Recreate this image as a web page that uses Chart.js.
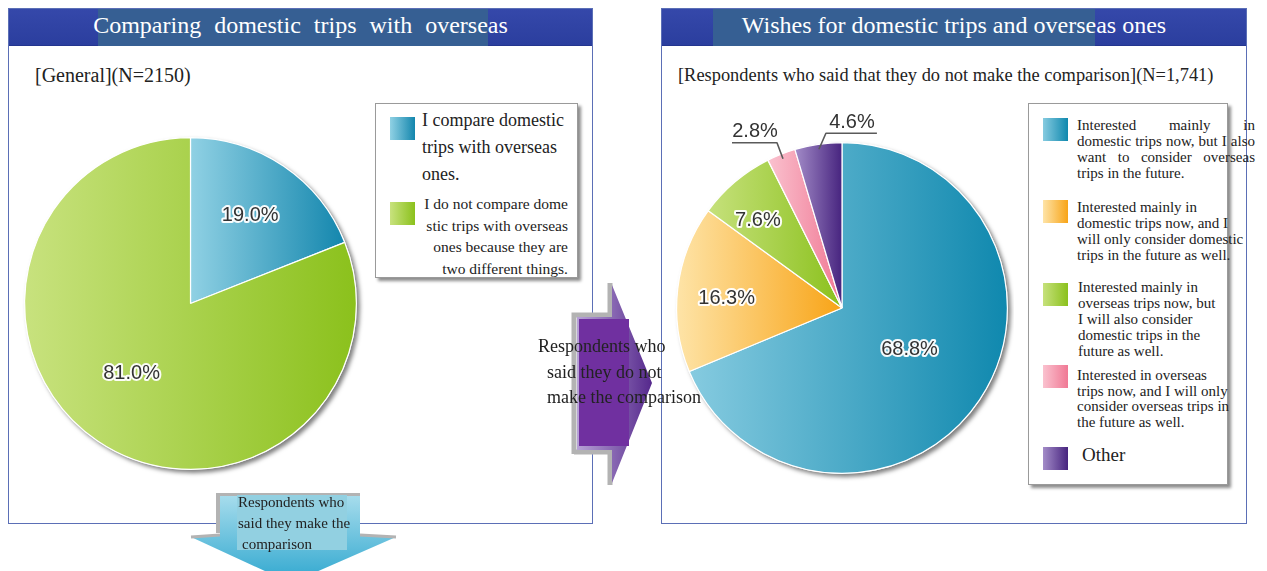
<!DOCTYPE html>
<html>
<head>
<meta charset="utf-8">
<script src="https://cdn.jsdelivr.net/npm/chart.js@4.4.1/dist/chart.umd.min.js"></script>
<style>
  html,body{margin:0;padding:0;background:#fff;}
  #stage{position:relative;width:1267px;height:571px;overflow:hidden;font-family:"Liberation Serif","DejaVu Serif",serif;color:#222;}
  .panel{position:absolute;box-sizing:border-box;border:1.5px solid #5b6fb6;background:#fff;}
  .hdr{position:absolute;left:0;top:0;right:0;height:36px;background:linear-gradient(#3548aa,#2b3e9e);border-bottom:1.5px solid #24358f;}
  .hbox{position:absolute;top:0;height:37px;background:#365f93;}
  .title{position:absolute;top:0;left:0;right:0;height:36px;line-height:32px;text-align:center;color:#fff;font-size:24px;white-space:nowrap;}
  .sub{position:absolute;white-space:nowrap;line-height:22px;}
  .legend{position:absolute;box-sizing:border-box;border:1px solid #9a9a9a;background:#fff;box-shadow:3px 3px 3px rgba(0,0,0,0.45);}
  .sw{position:absolute;width:25px;height:23px;}
  .lt{position:absolute;white-space:nowrap;}
  canvas{position:absolute;}
  svg{position:absolute;left:0;top:0;}
  .j{text-align:justify;text-align-last:justify;}
</style>
</head>
<body>
<div id="stage">
  <div class="panel" style="left:8px;top:8px;width:585px;height:516px;">
    <div class="hdr"></div>
    <div class="hbox" style="left:89px;width:390px;"></div>
    <div class="title" id="leftTitle" style="word-spacing:7px;"></div>
  </div>
  <div class="panel" style="left:661px;top:8px;width:586px;height:516px;">
    <div class="hdr"></div>
    <div class="hbox" style="left:51px;width:382px;"></div>
    <div class="title" id="rightTitle"></div>
  </div>
  <div class="sub" id="leftSub" style="left:35px;top:64px;font-size:20px;"></div>
  <div class="sub" id="rightSub" style="left:678px;top:64px;font-size:18.4px;"></div>

  <canvas id="leftPie" width="352" height="420" style="left:14px;top:100px;width:352px;height:420px;"></canvas>
  <canvas id="rightPie" width="344" height="420" style="left:670px;top:100px;width:344px;height:420px;"></canvas>

  <div class="legend" id="leftLegend" style="left:375px;top:103px;width:203px;height:175px;"></div>
  <div class="legend" id="rightLegend" style="left:1028px;top:103px;width:200px;height:382px;"></div>

  <svg width="1267" height="571" viewBox="0 0 1267 571">
    <defs>
      <linearGradient id="pg" x1="0" y1="0" x2="1" y2="0">
        <stop offset="0" stop-color="#b7a2d6"/>
        <stop offset="1" stop-color="#55288c"/>
      </linearGradient>
      <linearGradient id="bg" x1="0" y1="0" x2="0" y2="1">
        <stop offset="0" stop-color="#a6dcec"/>
        <stop offset="1" stop-color="#2fa7cf"/>
      </linearGradient>
    </defs>
    <polyline points="574,454 574,315 610,315 610,283" fill="none" stroke="#b3b3b3" stroke-width="5"/>
    <polyline points="574,452 610,452 610,485" fill="none" stroke="#b3b3b3" stroke-width="5"/>
    <polygon points="577,317 612,317 612,285 652,383 612,483 612,450 577,450" fill="url(#pg)"/>
    <rect x="579" y="319" width="50" height="127" fill="#7030a0"/>
    <polyline points="218,533 218,495 360,495" fill="none" stroke="#b3b3b3" stroke-width="4"/>
    <polygon points="220,496 360,496 360,535 396,537 291,583 191,537 220,535" fill="url(#bg)"/>
    <polyline points="191,537 220,535" fill="none" stroke="#b3b3b3" stroke-width="3"/>
    <polyline points="360,535 396,537" fill="none" stroke="#b3b3b3" stroke-width="3"/>
    <rect x="237" y="495" width="110" height="55" fill="#92d0e1"/>
  </svg>
  <div class="lt" id="midText" style="left:538px;top:334px;font-size:18px;line-height:25.5px;"></div>
  <div class="lt" id="botText" style="left:238px;top:492px;font-size:15px;line-height:21px;"></div>
</div>

<script>
// ---------------- DATA ----------------
const leftTitle = "Comparing domestic trips with overseas";
const rightTitle = "Wishes for domestic trips and overseas ones";
const leftSubtitle = "[General](N=2150)";
const rightSubtitle = "[Respondents who said that they do not make the comparison](N=1,741)";

const leftCategories = [
  "I compare domestic trips with overseas ones.",
  "I do not compare domestic trips with overseas ones because they are two different things."
];
const leftValues = [19.0, 81.0];

const rightCategories = [
  "Interested mainly in domestic trips now, but I also want to consider overseas trips in the future.",
  "Interested mainly in domestic trips now, and I will only consider domestic trips in the future as well.",
  "Interested mainly in overseas trips now, but I will also consider domestic trips in the future as well.",
  "Interested in overseas trips now, and I will only consider overseas trips in the future as well.",
  "Other"
];
const rightValues = [68.8, 16.3, 7.6, 2.8, 4.6];

const midArrowLines = ["Respondents who", "said they do not", "make the comparison"];
const bottomArrowLines = ["Respondents who", "said they make the", "comparison"];

// ---------------- STYLES ----------------
const leftLight = ["#90d1e4", "#c8e27e"];
const leftDark  = ["#1386ad", "#8bc11c"];
const rightLight = ["#86cbe0", "#fee4a8", "#c6e17c", "#fac2cf", "#a38cc8"];
const rightDark  = ["#0f88ae", "#f8a417", "#8bc11d", "#f07894", "#47247f"];

// legend line layout (wrapping as in the picture)
const leftLegendLines = [
  ["I compare domestic", "trips with overseas", "ones."],
  ["I do not compare dome", "stic trips with overseas", "ones because they are", "two different things."]
];
const rightLegendLines = [
  ["Interested mainly in", "domestic trips now, but I also", "want to consider overseas", "trips in the future."],
  ["Interested mainly in", "domestic trips now, and I", "will only consider domestic", "trips in the future as well."],
  ["Interested mainly in", "overseas trips now, but", "I will also consider", "domestic trips in the", "future as well."],
  ["Interested in overseas", "trips now, and I will only", "consider overseas trips in", "the future as well."],
  ["Other"]
];

// ---------------- TEXT ----------------
document.getElementById('leftTitle').textContent = leftTitle;
document.getElementById('rightTitle').textContent = rightTitle;
document.getElementById('leftSub').textContent = leftSubtitle;
document.getElementById('rightSub').textContent = rightSubtitle;
document.getElementById('midText').innerHTML = midArrowLines.map((l,i)=>'<div style="padding-left:'+(i?9:0)+'px">'+l+'</div>').join('');
document.getElementById('botText').innerHTML = bottomArrowLines.map((l,i)=>'<div style="padding-left:'+(i==2?4:0)+'px">'+l+'</div>').join('');

function swatchCss(l, d){ return 'background:linear-gradient(to right,'+l+','+d+');'; }

(function buildLeftLegend(){
  const el = document.getElementById('leftLegend');
  let h = '';
  h += '<div class="sw" style="left:14px;top:13px;'+swatchCss(leftLight[0],leftDark[0])+'"></div>';
  h += '<div class="lt" style="left:46px;top:3px;font-size:18px;line-height:27px;">'+leftLegendLines[0].join('<br>')+'</div>';
  h += '<div class="sw" style="left:14px;top:98px;'+swatchCss(leftLight[1],leftDark[1])+'"></div>';
  h += '<div class="lt" style="right:9px;top:89px;font-size:15.5px;line-height:21.7px;text-align:right;">'+leftLegendLines[1].join('<br>')+'</div>';
  el.innerHTML = h;
})();

(function buildRightLegend(){
  const el = document.getElementById('rightLegend');
  const swTops = [14, 96, 179, 261, 343];
  const txtTops = [13, 95, 175, 264, 339];
  let h = '';
  rightLegendLines.forEach((lines, i) => {
    h += '<div class="sw" style="left:14px;top:'+swTops[i]+'px;'+swatchCss(rightLight[i],rightDark[i])+'"></div>';
    if (i === 4) {
      h += '<div class="lt" style="left:53px;top:'+txtTops[i]+'px;font-size:19px;line-height:24px;">'+lines[0]+'</div>';
    } else if (i === 0) {
      h += '<div class="lt" style="left:48px;top:'+txtTops[i]+'px;font-size:15px;line-height:16px;">' +
        lines.map((l,k)=>'<div class="'+(k<3?'j':'')+'" style="width:178px;">'+l+'</div>').join('') + '</div>';
    } else {
      h += '<div class="lt" style="left:'+(i===2?49:48)+'px;top:'+txtTops[i]+'px;font-size:15px;line-height:'+(i===3?15.5:16)+'px;">'+lines.join('<br>')+'</div>';
    }
  });
  el.innerHTML = h;
})();

// ---------------- CHART HELPERS ----------------
function sliceGradient(light, dark){
  return function(ctx){
    const chart = ctx.chart, a = chart.chartArea;
    const i = ctx.dataIndex;
    if (!a || i === undefined) return dark[i] || dark[0];
    const vals = chart.data.datasets[0].data;
    const total = vals.reduce((s,v)=>s+v,0);
    let cum = 0; for (let k=0;k<i;k++) cum += vals[k];
    const cx=(a.left+a.right)/2, cy=(a.top+a.bottom)/2, r=Math.min(a.width,a.height)/2;
    const s = -Math.PI/2 + 2*Math.PI*cum/total, e = s + 2*Math.PI*vals[i]/total;
    let minX=cx, maxX=cx;
    for (let k=0;k<=60;k++){ const ang=s+(e-s)*k/60; const x=cx+r*Math.cos(ang); minX=Math.min(minX,x); maxX=Math.max(maxX,x); }
    const g = chart.ctx.createLinearGradient(minX,0,maxX,0);
    g.addColorStop(0, light[i]); g.addColorStop(1, dark[i]);
    return g;
  };
}

const shadowPlugin = {
  id:'pieShadow',
  beforeDatasetsDraw(chart){
    const c = chart.ctx;
    const arc = chart.getDatasetMeta(0).data[0];
    const cx=arc.x, cy=arc.y, r=arc.outerRadius;
    c.save();
    c.shadowColor='rgba(0,0,0,0.5)'; c.shadowBlur=4; c.shadowOffsetX=3; c.shadowOffsetY=3;
    c.beginPath(); c.arc(cx,cy,r+0.5,0,Math.PI*2); c.fillStyle='#fff'; c.fill();
    c.restore();
  }
};

const labelPlugin = {
  id:'pieLabels',
  afterDatasetsDraw(chart, args, opts){
    const c = chart.ctx;
    const meta = chart.getDatasetMeta(0);
    const vals = chart.data.datasets[0].data;
    c.save();
    c.font = '20px "Liberation Sans", Arial, sans-serif';
    c.textAlign='center'; c.textBaseline='middle';
    c.lineJoin='round';
    meta.data.forEach((arc, i) => {
      const cfg = opts.cfg[i];
      const mid = (arc.startAngle + arc.endAngle)/2 + (cfg.dAngle||0)*Math.PI/180;
      const rr = arc.outerRadius * cfg.frac;
      const px = arc.x + rr*Math.cos(mid), py = arc.y + rr*Math.sin(mid);
      const text = vals[i].toFixed(1) + '%';
      let tx = px, ty = py;
      if (cfg.leader){
        const L = cfg.leader;
        c.beginPath();
        c.moveTo(px,py); c.lineTo(px+L.elbow[0], py+L.elbow[1]); c.lineTo(px+L.end[0], py+L.end[1]);
        c.strokeStyle='#5a5a5a'; c.lineWidth=1.6; c.stroke();
        tx = px + L.text[0]; ty = py + L.text[1];
      }
      c.strokeStyle='rgba(255,255,255,0.95)'; c.lineWidth=4;
      c.strokeText(text, tx, ty);
      c.fillStyle='#333';
      c.fillText(text, tx, ty);
    });
    c.restore();
  }
};

function makePie(id, labels, values, light, dark, padding, cfg){
  return new Chart(document.getElementById(id), {
    type:'pie',
    data:{ labels: labels, datasets:[{ data: values, backgroundColor: sliceGradient(light, dark), borderColor:'#ffffff', borderWidth:1.2 }] },
    options:{
      responsive:false, animation:false,
      layout:{ padding: padding },
      plugins:{ legend:{display:false}, tooltip:{enabled:false}, pieLabels:{ cfg: cfg } }
    },
    plugins:[shadowPlugin, labelPlugin]
  });
}

makePie('leftPie', leftCategories, leftValues, leftLight, leftDark,
  {left:10, right:9, top:37, bottom:50},
  [ {frac:0.64}, {frac:0.55, dAngle:6} ]);

makePie('rightPie', rightCategories, rightValues, rightLight, rightDark,
  {left:6, right:6, top:42, bottom:46},
  [ {frac:0.48, dAngle:-2}, {frac:0.70, dAngle:-2}, {frac:0.735, dAngle:-3.5},
    {frac:0.97, leader:{elbow:[-6,-16], end:[-51,-16], text:[-28,-27]}},
    {frac:0.97, leader:{elbow:[7,-16], end:[58,-16], text:[33,-27]}} ]);
</script>
</body>
</html>
